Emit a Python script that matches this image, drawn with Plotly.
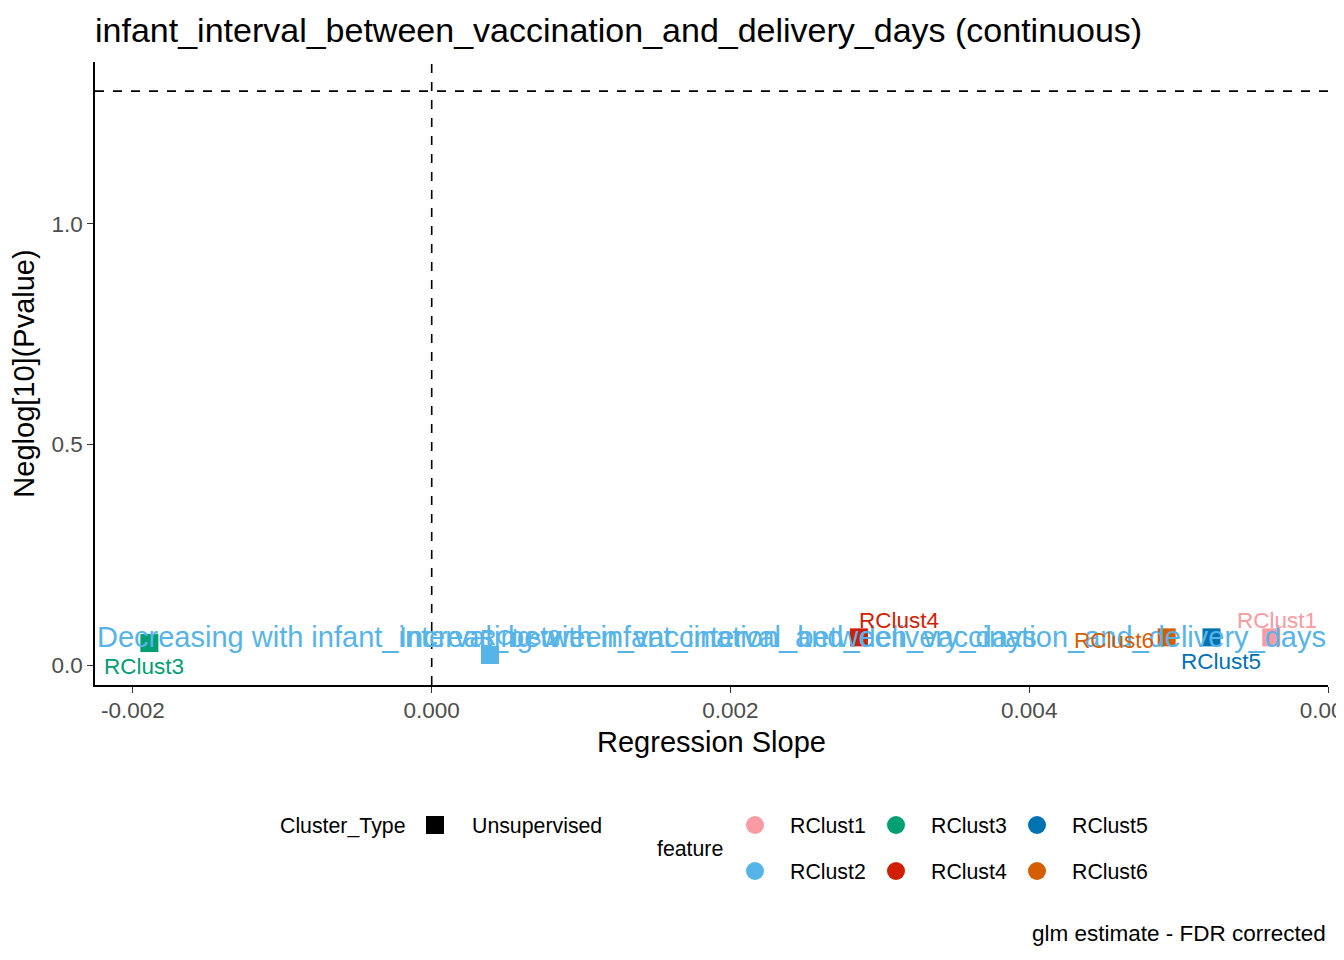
import plotly.graph_objects as go

# ---- data ----
features = ["RClust1", "RClust2", "RClust3", "RClust4", "RClust5", "RClust6"]
slopes = [0.00562, 0.00039, -0.00189, 0.00286, 0.00522, 0.00492]
neglog_p = [0.063, 0.023, 0.050, 0.063, 0.063, 0.063]
feature_colors = ["#F99BA3", "#56B4E9", "#009E73", "#D11F06", "#0072B2", "#D55E00"]
x_tick_vals = [-0.002, 0.000, 0.002, 0.004, 0.006]
x_tick_text = ["-0.002", "0.000", "0.002", "0.004", "0.006"]
y_tick_vals = [0.0, 0.5, 1.0]
y_tick_text = ["0.0", "0.5", "1.0"]
sig_threshold = 1.30103  # -log10(0.05)
title = "infant_interval_between_vaccination_and_delivery_days (continuous)"
dec_text = "Decreasing with infant_interval_between_vaccination_and_delivery_days"
inc_text = "Increasing with infant_interval_between_vaccination_and_delivery_days"

# label offsets (px) for repelled labels
label_shift = {
    "RClust1": (6, 17), "RClust2": (30, 18), "RClust3": (-5, -23),
    "RClust4": (40, 17), "RClust5": (10, -24), "RClust6": (-53, -3),
}

FONT = "Liberation Sans, Arial, sans-serif"
OFF = 8  # page body margin
W, H = 1344 - OFF, 960 - OFF
L, R, T, B = 95 - OFF, 1328 - OFF, 62 - OFF, 685 - OFF

def px(xp):  # reference-pixel x -> paper
    return (xp - OFF - L) / (R - L)

def py(yp):  # reference-pixel y -> paper
    return (B - (yp - OFF)) / (B - T)

fig = go.Figure()
for f, x, y, c in zip(features, slopes, neglog_p, feature_colors):
    fig.add_trace(go.Scatter(x=[x], y=[y], mode="markers",
                             marker=dict(symbol="square", size=18, color=c),
                             showlegend=False, cliponaxis=False))

annotations = []
annotations.append(dict(x=0, xref="paper", y=0.063, yref="y", text=dec_text,
                        showarrow=False, xanchor="left", yanchor="middle",
                        font=dict(family=FONT, size=29, color="#56B4E9")))
annotations.append(dict(x=1, xref="paper", y=0.063, yref="y", text=inc_text,
                        showarrow=False, xanchor="right", yanchor="middle",
                        font=dict(family=FONT, size=29, color="#56B4E9")))
for f, x, y, c in zip(features, slopes, neglog_p, feature_colors):
    dx, dy = label_shift[f]
    annotations.append(dict(x=x, y=y, xref="x", yref="y", text=f, showarrow=False,
                            xshift=dx, yshift=dy, xanchor="center", yanchor="middle",
                            font=dict(family=FONT, size=22.5, color=c)))

shapes = [
    dict(type="line", xref="x", yref="paper", x0=0, x1=0, y0=0, y1=1,
         line=dict(color="black", width=1.6, dash="dash")),
    dict(type="line", xref="paper", yref="y", x0=0, x1=1, y0=sig_threshold, y1=sig_threshold,
         line=dict(color="black", width=1.6, dash="dash")),
]

# ---- manual legend ----
lab_font = dict(family=FONT, size=21.3, color="black")
annotations.append(dict(x=px(278), y=py(826), xref="paper", yref="paper", text="Cluster_Type",
                        showarrow=False, xanchor="left", yanchor="middle", font=lab_font))
shapes.append(dict(type="rect", xref="paper", yref="paper", x0=px(426), x1=px(444),
                   y0=py(834), y1=py(816), fillcolor="black", line=dict(width=0)))
annotations.append(dict(x=px(470), y=py(826), xref="paper", yref="paper", text="Unsupervised",
                        showarrow=False, xanchor="left", yanchor="middle", font=lab_font))
annotations.append(dict(x=px(655), y=py(849), xref="paper", yref="paper", text="feature",
                        showarrow=False, xanchor="left", yanchor="middle", font=lab_font))
col_x = [755, 896, 1037]
row_y = [825, 871]
for i, (f, c) in enumerate(zip(features, feature_colors)):
    cx = col_x[i // 2]
    cy = row_y[i % 2]
    shapes.append(dict(type="circle", xref="paper", yref="paper",
                       x0=px(cx - 9), x1=px(cx + 9), y0=py(cy + 9), y1=py(cy - 9),
                       fillcolor=c, line=dict(width=0)))
    annotations.append(dict(x=px(cx + 33), y=py(cy + 1), xref="paper", yref="paper", text=f,
                            showarrow=False, xanchor="left", yanchor="middle", font=lab_font))
annotations.append(dict(x=1, y=py(933), xref="paper", yref="paper", text="glm estimate - FDR corrected",
                        showarrow=False, xanchor="right", yanchor="middle",
                        font=dict(family=FONT, size=22.5, color="black")))

fig.update_layout(
    width=W, height=H,
    margin=dict(l=L, r=W - R, t=T, b=H - B, autoexpand=False),
    paper_bgcolor="white", plot_bgcolor="white",
    title=dict(text=title, x=L / W, xanchor="left", y=1 - (30 - OFF) / H, yanchor="middle",
               font=dict(family=FONT, size=34, color="black")),
    font=dict(family=FONT),
    annotations=annotations, shapes=shapes,
    showlegend=False,
)
fig.update_xaxes(range=[-0.002254, 0.006], tickvals=x_tick_vals, ticktext=x_tick_text,
                 automargin=False,
                 showgrid=False, zeroline=False, showline=True, linecolor="black", linewidth=1.6,
                 ticks="outside", ticklen=6, tickcolor="#333333", tickwidth=1.4,
                 ticklabeloverflow="allow", ticklabelstandoff=-2,
                 tickfont=dict(family=FONT, size=22.5, color="#4D4D4D"),
                 title=dict(text="Regression Slope", font=dict(family=FONT, size=29, color="black"),
                            standoff=10))
fig.update_yaxes(range=[-0.045, 1.367], tickvals=y_tick_vals, ticktext=y_tick_text,
                 automargin=False,
                 showgrid=False, zeroline=False, showline=True, linecolor="black", linewidth=1.6,
                 ticks="outside", ticklen=6, tickcolor="#333333", tickwidth=1.4,
                 tickfont=dict(family=FONT, size=22.5, color="#4D4D4D"),
                 title=dict(text="Neglog[10](Pvalue)", font=dict(family=FONT, size=29, color="black"),
                            standoff=10))

fig.write_html("out.html")
